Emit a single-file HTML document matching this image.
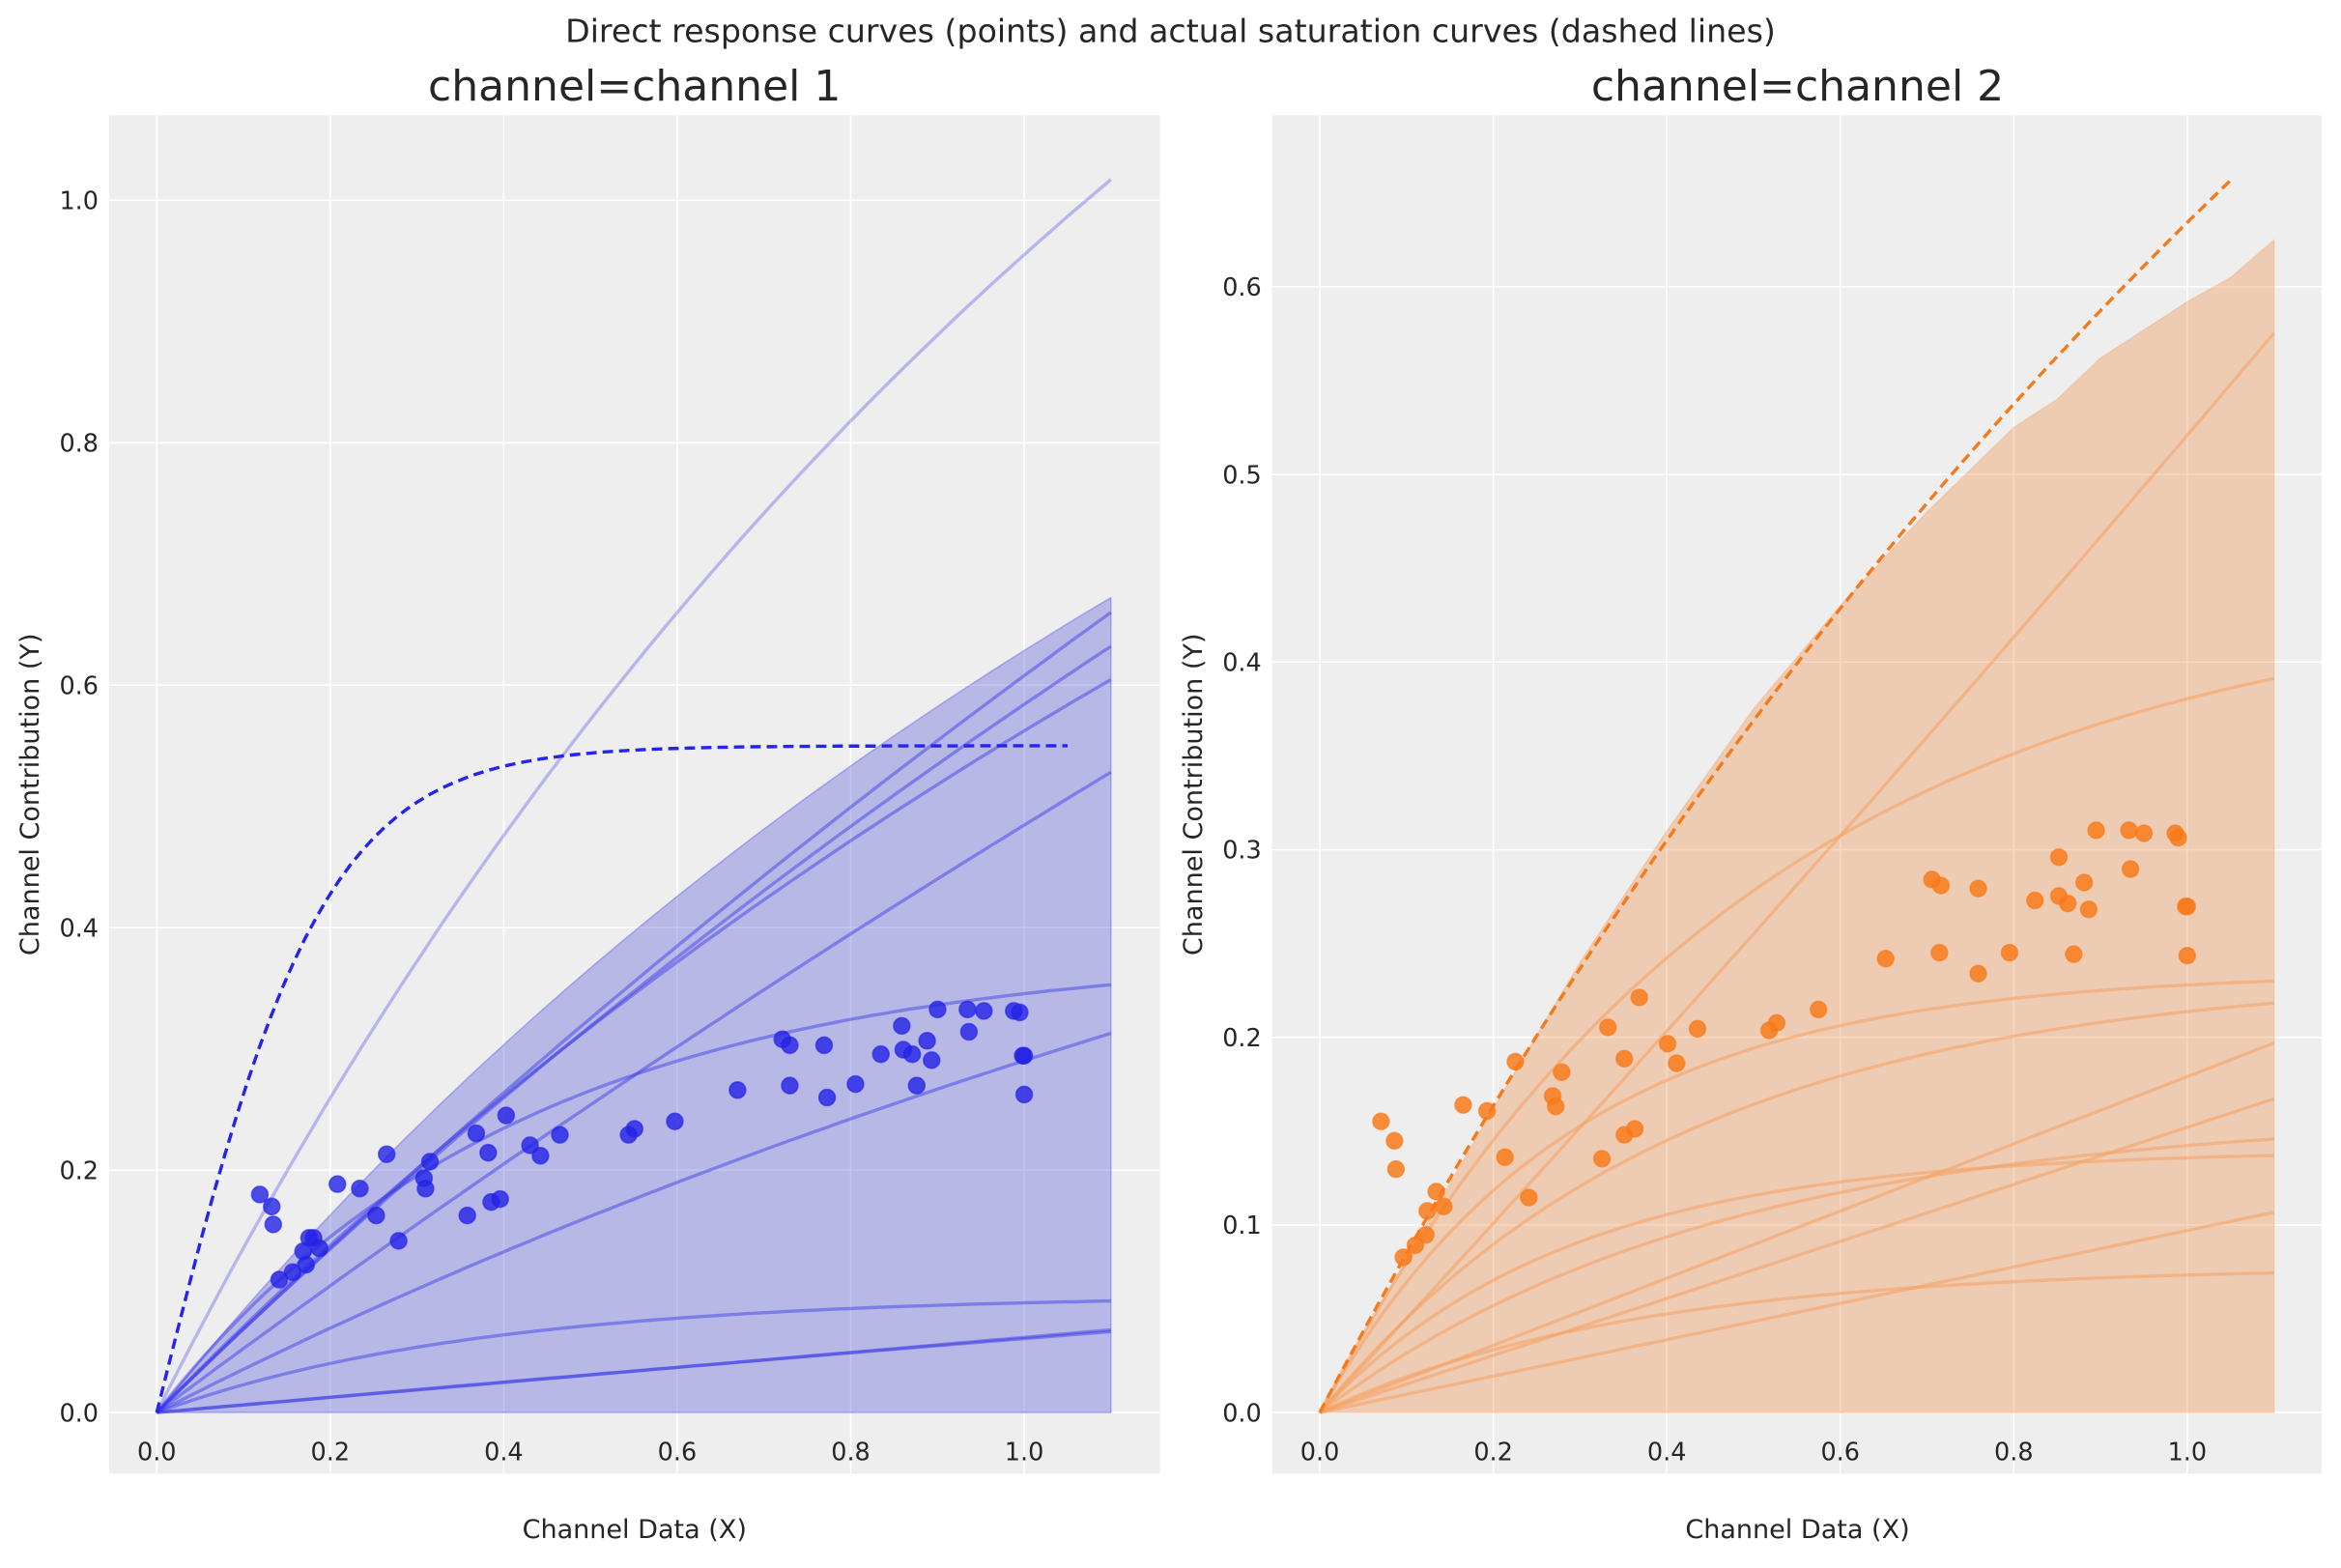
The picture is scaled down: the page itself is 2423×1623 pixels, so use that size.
<!DOCTYPE html>
<html><head><meta charset="utf-8"><style>
html,body{margin:0;padding:0;background:#fff;}
svg{display:block;font-family:"DejaVu Sans","Liberation Sans",sans-serif;}
</style></head><body>
<svg id="s" width="2423" height="1623" viewBox="0 0 1568 1050" xmlns="http://www.w3.org/2000/svg">
<rect width="1568" height="1050" fill="#fff"/>
<text x="784" y="28" font-size="21.5" text-anchor="middle" fill="#262626">Direct response curves (points) and actual saturation curves (dashed lines)</text>
<text x="425" y="67" font-size="28.5" text-anchor="middle" fill="#262626">channel=channel 1</text>
<text x="1204" y="67" font-size="28.5" text-anchor="middle" fill="#262626">channel=channel 2</text>
<rect x="73" y="77" width="704" height="910" fill="#eeeeee"/>
<rect x="852" y="77" width="703" height="910" fill="#eeeeee"/>
<g id="grid" stroke="#fff" stroke-width="1"></g>
<g id="L"></g>
<g id="R"></g>
<g id="txt" font-size="16.5" fill="#262626"></g>
<text x="425" y="1030" font-size="17.5" text-anchor="middle" fill="#262626">Channel Data (X)</text>
<text x="1204" y="1030" font-size="17.5" text-anchor="middle" fill="#262626">Channel Data (X)</text>
<text transform="translate(26,532) rotate(-90)" font-size="17.5" text-anchor="middle" fill="#262626">Channel Contribution (Y)</text>
<text transform="translate(805,532) rotate(-90)" font-size="17.5" text-anchor="middle" fill="#262626">Channel Contribution (Y)</text>
</svg>
<script>
var NS="http://www.w3.org/2000/svg";
function el(p,t,a){var e=document.createElementNS(NS,t);for(var k in a)e.setAttribute(k,a[k]);p.appendChild(e);return e;}
var G=document.getElementById('grid'),T=document.getElementById('txt'),L=document.getElementById('L'),R=document.getElementById('R');
function lx(x){return 105+581*x;} function ly(y){return 946-812*y;}
function rx(x){return 884+581*x;} function ry(y){return 946-1256.7*y;}
for(var i=0;i<=5;i++){var v=i*0.2;
 el(G,'line',{x1:lx(v),x2:lx(v),y1:77,y2:987});
 el(G,'line',{x1:73,x2:777,y1:ly(v),y2:ly(v)});
 var t=el(T,'text',{x:lx(v),y:978,'text-anchor':'middle'});t.textContent=v.toFixed(1);
 t=el(T,'text',{x:66,y:ly(v)+6,'text-anchor':'end'});t.textContent=v.toFixed(1);
 el(G,'line',{x1:rx(v),x2:rx(v),y1:77,y2:987});
 t=el(T,'text',{x:rx(v),y:978,'text-anchor':'middle'});t.textContent=v.toFixed(1);
}
for(var i=0;i<=6;i++){var v=i*0.1;
 el(G,'line',{x1:852,x2:1555,y1:ry(v),y2:ry(v)});
 var t=el(T,'text',{x:845,y:ry(v)+6,'text-anchor':'end'});t.textContent=v.toFixed(1);
}
function path(f,X,Y,xmax){var d='';for(var i=0;i<=80;i++){var x=xmax*i/80;d+=(i?'L':'M')+X(x).toFixed(1)+','+Y(f(x)).toFixed(1);}return d;}
function hyp(a,b){return function(x){return a*x/(1+b*x);};}
function sat(a,k){return function(x){return a*(1-Math.exp(-k*x));};}
var up=hyp(0.88,0.4);
var d=path(up,lx,ly,1.1)+'L'+lx(1.1)+','+ly(0)+'L'+lx(0)+','+ly(0)+'Z';
el(L,'path',{d:d,fill:'#3b3bd8','fill-opacity':0.3,stroke:'#5555ee','stroke-opacity':0.4});
var lf=[[hyp(1.424,0.491),0.3],[hyp(0.699,0.15),0.45],[hyp(0.701,0.2),0.45],[hyp(0.731,0.3),0.45],[hyp(0.533,0.1),0.45],
[sat(0.38,2.4),0.45],[hyp(0.366,0.261),0.45],[sat(0.097,2.7),0.45],[hyp(0.064,0.05),0.45],[hyp(0.062,0),0.45]];
lf.forEach(function(p){el(L,'path',{d:path(p[0],lx,ly,1.1),fill:'none',stroke:'#3535e8','stroke-opacity':p[1],'stroke-width':2.2});});
el(L,'path',{d:path(function(x){return 0.55*Math.tanh(5.2*x);},lx,ly,1.05),fill:'none',stroke:'#2424ee','stroke-width':2.2,'stroke-dasharray':'7,4'});
var lp=[[174,800],[182,808],[183,820],[187,857],[196,852],[203,838],[205,847],[207,829],[210,829],[214,836],[226,793],[241,796],[252,814],[259,773],[267,831],[284,789],[285,796],[288,778],[313,814],[319,759],[327,772],[329,805],[335,803],[339,747],[355,767],[362,774],[375,760],[421,760],[425,756],[452,751],[494,730],[524,696],[529,700],[529,727],[552,700],[554,735],[573,726],[590,706],[604,687],[605,703],[611,706],[614,727],[621,697],[624,710],[628,676],[648,676],[649,691],[659,677],[679,677],[683,678],[685,707],[686,707],[686,733]];
lp.forEach(function(p){el(L,'circle',{cx:p[0],cy:p[1],r:5.5,fill:'#2222e6','fill-opacity':0.8,stroke:'#2222e6','stroke-opacity':0.6});});
var rb=[[0,0],[0.1,0.082],[0.2,0.162],[0.3,0.24],[0.4,0.31],[0.5,0.375],[0.6,0.43],[0.7,0.48],[0.8,0.525],[0.85,0.54],[0.9,0.562],[1.0,0.592],[1.05,0.605],[1.1,0.625]];
d='M'+rb.map(function(p){return rx(p[0]).toFixed(1)+','+ry(p[1]).toFixed(1);}).join('L')+'L'+rx(1.1)+','+ry(0)+'Z';
el(R,'path',{d:d,fill:'#f08a3c','fill-opacity':0.33,stroke:'#f5a060','stroke-opacity':0.3});
var rf=[hyp(0.5,-0.04),sat(0.44,2),sat(0.235,3.5),sat(0.235,2.4),hyp(0.179,0),hyp(0.152,0),sat(0.16,2.2),sat(0.14,3.5),hyp(0.097,0),sat(0.078,2.8)];
rf.forEach(function(f){el(R,'path',{d:path(f,rx,ry,1.1),fill:'none',stroke:'#f5a060','stroke-opacity':0.55,'stroke-width':2.2});});
el(R,'path',{d:path(hyp(0.881,0.389),rx,ry,1.05),fill:'none',stroke:'#f57a1c','stroke-width':2.2,'stroke-dasharray':'7,4'});
var rp=[[925,751],[934,764],[935,783],[940,842],[948,834],[955,827],[956,811],[962,798],[967,808],[980,740],[996,744],[1008,775],[1015,711],[1024,802],[1040,734],[1042,741],[1046,718],[1073,776],[1077,688],[1088,709],[1088,760],[1095,756],[1098,668],[1117,699],[1123,712],[1137,689],[1185,690],[1190,685],[1218,676],[1263,642],[1294,589],[1300,593],[1299,638],[1325,595],[1325,652],[1346,638],[1363,603],[1379,574],[1379,600],[1385,605],[1389,639],[1396,591],[1399,609],[1404,556],[1426,556],[1427,582],[1436,558],[1457,558],[1459,561],[1464,607],[1465,607],[1465,640]];
rp.forEach(function(p){el(R,'circle',{cx:p[0],cy:p[1],r:5.5,fill:'#f87a1a','fill-opacity':0.85,stroke:'#f87a1a','stroke-opacity':0.6});});
</script>
</body></html>
